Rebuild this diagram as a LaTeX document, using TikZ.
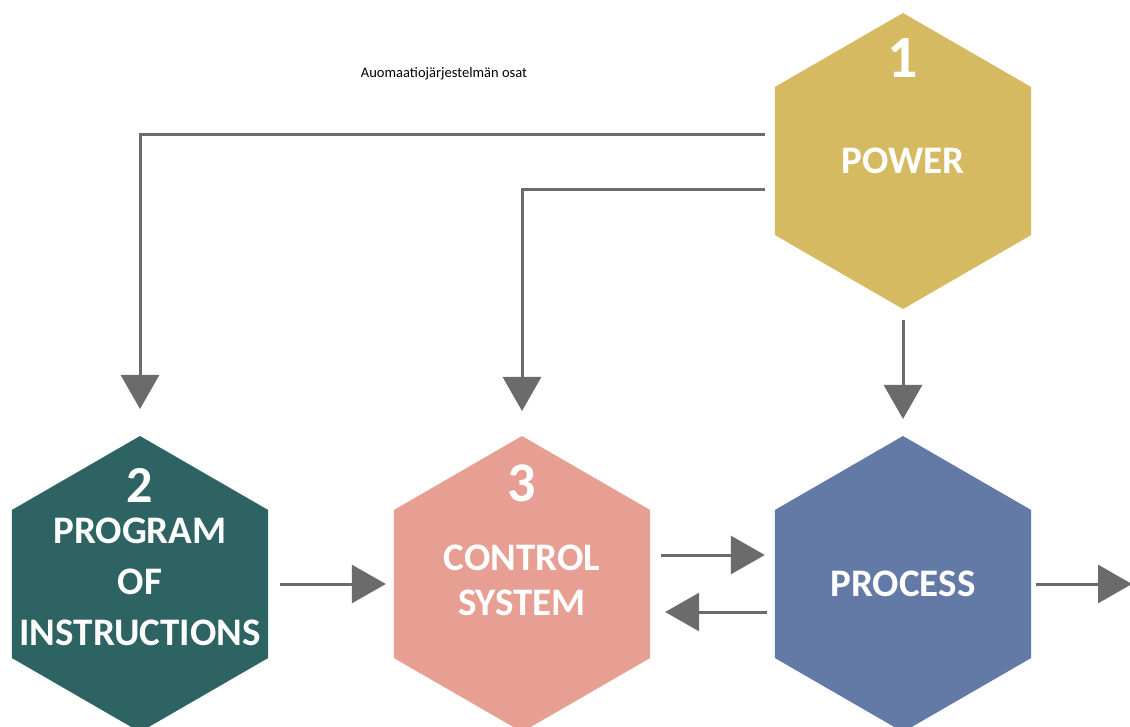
\documentclass[tikz,border=0pt]{standalone}
\usepackage{fontspec}
\setmainfont{Carlito}
\usetikzlibrary{shapes.geometric,arrows.meta}
\definecolor{powergold}{HTML}{D5BA62}
\definecolor{progteal}{HTML}{2D6362}
\definecolor{ctrlpink}{HTML}{E89F93}
\definecolor{procblue}{HTML}{637AA7}
\definecolor{flowgray}{HTML}{6B6B6B}
\tikzset{
  hexa/.style={regular polygon, regular polygon sides=6, shape border rotate=30,
    minimum size=296pt, inner sep=0pt, outer sep=0pt, fill=#1},
  hexlabel/.style={text=white, font=\bfseries\fontsize{39}{51}\selectfont,
    align=center, inner sep=0pt},
  hexnum/.style={text=white, font=\bfseries\fontsize{60}{60}\selectfont, inner sep=0pt},
  flow/.style={draw=flowgray, line width=3pt, -{Triangle[width=38pt,length=34pt]}},
}

\begin{document}
\begin{tikzpicture}[x=1pt,y=-1pt]
  \useasboundingbox (0,0) rectangle (1130,726);
  \node[font=\fontsize{14.5}{16}\selectfont] (title) at (444,74) {Auomaatiojärjestelmän osat};

  % the four parts
  \node[hexa=powergold] (pw) at (903,161) {};
  \node[hexa=progteal] (pg) at (140,584) {};
  \node[hexa=ctrlpink] (cs) at (522,584) {};
  \node[hexa=procblue] (pr) at (903,584) {};

  \node[hexnum] (n1) at ([yshift=103pt]pw.center) {1};
  \node[hexlabel] (pwtext) at (pw.center) {POWER};
  \node[hexnum, font=\bfseries\fontsize{52}{52}\selectfont] (n2) at ([yshift=99pt]pg.center) {2};
  \node[hexlabel] (pgtext) at ([yshift=2pt]pg.center) {PROGRAM\\OF\\INSTRUCTIONS};
  \node[hexnum, font=\bfseries\fontsize{56}{56}\selectfont] (n3) at ([yshift=101pt]cs.center) {3};
  \node[hexlabel, font=\bfseries\fontsize{39}{45}\selectfont] (cstext) at ([yshift=4pt]cs.center) {CONTROL\\SYSTEM};
  \node[hexlabel] (prtext) at (pr.center) {PROCESS};

  % connectors
  \coordinate (out) at (1132,584);
  \draw[flow] ([xshift=-10pt,yshift=27pt]pw.180) -| ([yshift=27pt]pg.90);
  \draw[flow] ([xshift=-10pt,yshift=-28pt]pw.180) -| ([yshift=25pt]cs.90);
  \draw[flow] ([yshift=-11pt]pw.270) -- ([yshift=17pt]pr.90);
  \draw[flow] ([xshift=12pt]pg.0) -- ([xshift=-8pt]cs.180);
  \draw[flow] ([xshift=11pt,yshift=29pt]cs.0) -- ([xshift=-10pt,yshift=29pt]pr.180);
  \draw[flow] ([xshift=-8pt,yshift=-28pt]pr.180) -- ([xshift=15pt,yshift=-28pt]cs.0);
  \draw[flow] ([xshift=5pt]pr.0) -- (out);
\end{tikzpicture}
\end{document}
